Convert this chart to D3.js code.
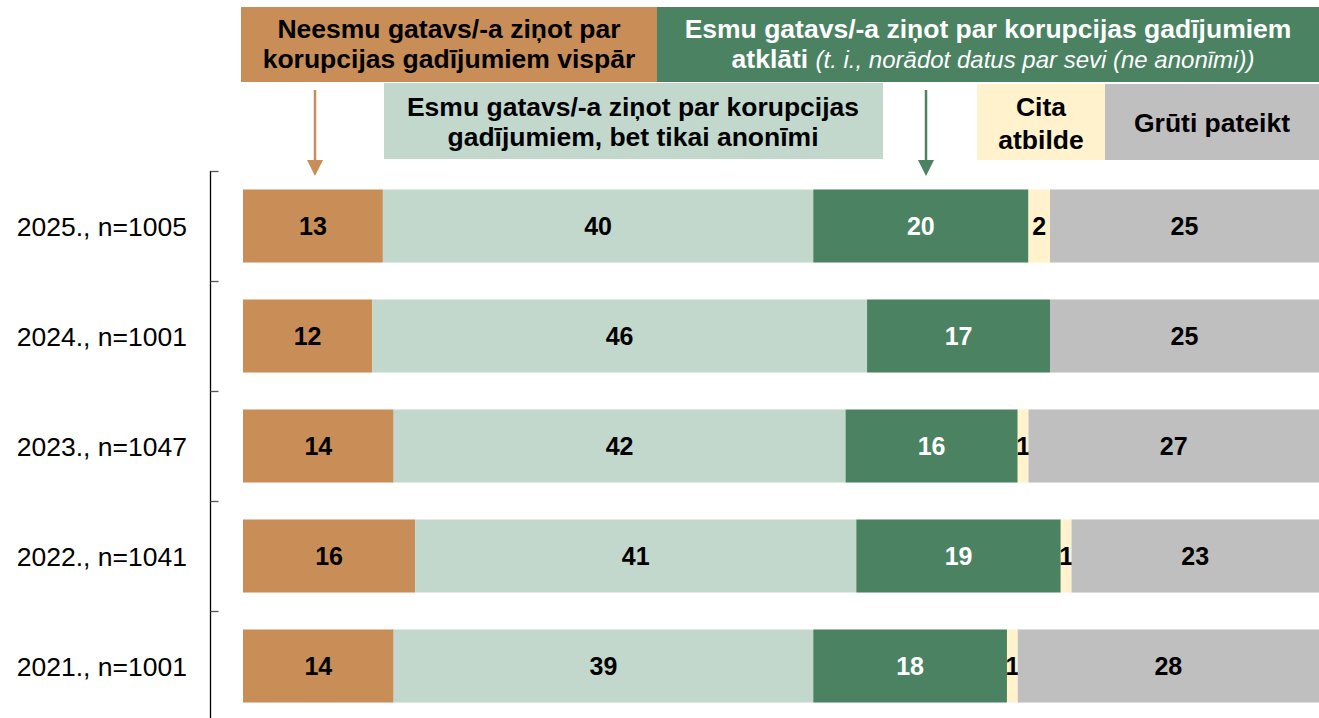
<!DOCTYPE html>
<html>
<head>
<meta charset="utf-8">
<script src="https://cdn.jsdelivr.net/npm/d3@7"></script>
<style>
  body { margin: 0; background: #fff; }
  svg { display: block; font-family: "Liberation Sans", Arial, sans-serif; }
</style>
</head>
<body>
<svg id="chart" width="1319" height="718"></svg>
<script>
(function() {
  // rows, top to bottom
  const years = ["2025., n=1005", "2024., n=1001", "2023., n=1047", "2022., n=1041", "2021., n=1001"];
  const notReady  = [13, 12, 14, 16, 14];
  const anonOnly  = [40, 46, 42, 41, 39];
  const openly    = [20, 17, 16, 19, 18];
  const other     = [2, 0, 1, 1, 1];
  const hardToSay = [25, 25, 27, 23, 28];

  const keys = ["notReady", "anonOnly", "openly", "other", "hardToSay"];
  const colors = {
    notReady: "#C98E58",
    anonOnly: "#C3D8CD",
    openly: "#4A8262",
    other: "#FFF2CC",
    hardToSay: "#BFBFBF"
  };
  const labelColor = { notReady: "#000", anonOnly: "#000", openly: "#fff", other: "#000", hardToSay: "#000" };

  const table = years.map((y, i) => ({
    year: y,
    notReady: notReady[i],
    anonOnly: anonOnly[i],
    openly: openly[i],
    other: other[i],
    hardToSay: hardToSay[i]
  }));

  const W = 1319, H = 718;
  const svg = d3.select("#chart");

  const x = d3.scaleLinear().domain([0, 100]).range([243, 1319]);
  const y = d3.scaleBand().domain(years).range([171, 721]).paddingInner(0.336).paddingOuter(0.168);

  const series = d3.stack().keys(keys)(table);

  // bars
  const g = svg.append("g");
  series.forEach(s => {
    const key = s.key;
    g.append("g")
      .selectAll("rect")
      .data(s.filter(d => d[1] - d[0] > 0))
      .join("rect")
      .attr("x", d => x(d[0]))
      .attr("y", d => y(d.data.year))
      .attr("width", d => x(d[1]) - x(d[0]))
      .attr("height", y.bandwidth())
      .attr("fill", colors[key]);

    g.append("g")
      .selectAll("text")
      .data(s.filter(d => d[1] - d[0] > 0))
      .join("text")
      .attr("x", d => (x(d[0]) + x(d[1])) / 2)
      .attr("y", d => y(d.data.year) + y.bandwidth() / 2)
      .attr("dy", "0.36em")
      .attr("text-anchor", "middle")
      .attr("font-size", 25)
      .attr("font-weight", "bold")
      .attr("fill", labelColor[key])
      .text(d => d.data[key]);
  });

  // category axis
  const axisX = 210.5;
  const step = y.step();
  const top = y.range()[0];
  svg.append("line")
    .attr("x1", axisX).attr("x2", axisX)
    .attr("y1", top).attr("y2", H)
    .attr("stroke", "#000").attr("stroke-width", 1.3);

  svg.append("g")
    .selectAll("line")
    .data(years)
    .join("line")
    .attr("x1", axisX).attr("x2", axisX + 8)
    .attr("y1", d => Math.round(y(d) - (step - y.bandwidth()) / 2) + 0.5)
    .attr("y2", d => Math.round(y(d) - (step - y.bandwidth()) / 2) + 0.5)
    .attr("stroke", "#555").attr("stroke-width", 1.3);

  svg.append("g")
    .selectAll("text")
    .data(years)
    .join("text")
    .attr("x", 187)
    .attr("y", d => y(d) + y.bandwidth() / 2)
    .attr("dy", "0.36em")
    .attr("text-anchor", "end")
    .attr("font-size", 26.5)
    .attr("fill", "#000")
    .text(d => d);

  // header boxes
  const hdr = svg.append("g");
  const boxes = [
    { x0: 241, x1: 657, y0: 7, y1: 82, fill: colors.notReady },
    { x0: 657, x1: 1319, y0: 7, y1: 82, fill: colors.openly },
    { x0: 384, x1: 883, y0: 83, y1: 159, fill: colors.anonOnly },
    { x0: 977, x1: 1105, y0: 84, y1: 160, fill: colors.other },
    { x0: 1105, x1: 1319, y0: 84, y1: 160, fill: colors.hardToSay }
  ];
  hdr.selectAll("rect")
    .data(boxes)
    .join("rect")
    .attr("x", d => d.x0).attr("y", d => d.y0)
    .attr("width", d => d.x1 - d.x0).attr("height", d => d.y1 - d.y0)
    .attr("fill", d => d.fill);

  function label(cx, cy, txt, fill) {
    return hdr.append("text")
      .attr("x", cx).attr("y", cy)
      .attr("text-anchor", "middle")
      .attr("font-size", 26.5)
      .attr("font-weight", "bold")
      .attr("fill", fill || "#000")
      .text(txt);
  }

  label(449, 38, "Neesmu gatavs/-a ziņot par");
  label(449, 68, "korupcijas gadījumiem vispār");

  label(988, 38, "Esmu gatavs/-a ziņot par korupcijas gadījumiem", "#fff");
  const t2 = hdr.append("text")
    .attr("x", 993).attr("y", 68)
    .attr("text-anchor", "middle")
    .attr("fill", "#fff");
  t2.append("tspan").attr("font-size", 26.5).attr("font-weight", "bold").text("atklāti ");
  t2.append("tspan").attr("font-size", 24).attr("font-style", "italic").text("(t. i., norādot datus par sevi (ne anonīmi))");

  label(633, 116, "Esmu gatavs/-a ziņot par korupcijas");
  label(633, 146, "gadījumiem, bet tikai anonīmi");

  label(1041, 116, "Cita");
  label(1041, 149, "atbilde");

  label(1212, 132, "Grūti pateikt");

  // arrows
  function arrow(ax, col) {
    hdr.append("line")
      .attr("x1", ax).attr("x2", ax)
      .attr("y1", 90).attr("y2", 162)
      .attr("stroke", col).attr("stroke-width", 2.5);
    hdr.append("path")
      .attr("d", `M${ax - 8},160 L${ax + 8},160 L${ax},176 Z`)
      .attr("fill", col);
  }
  arrow(315, colors.notReady);
  arrow(926, colors.openly);
})();
</script>
</body>
</html>
